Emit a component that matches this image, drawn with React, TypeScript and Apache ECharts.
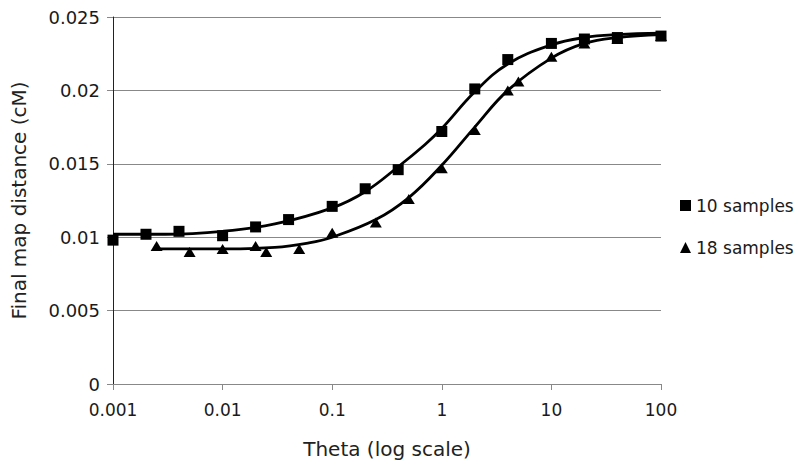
import React, { useEffect, useRef } from "react";
import * as echarts from "echarts";

const xTicks = [0.001, 0.01, 0.1, 1, 10, 100];
const yTicks = [0, 0.005, 0.01, 0.015, 0.02, 0.025];

const sqX = [0.001, 0.002, 0.004, 0.01, 0.02, 0.04, 0.1, 0.2, 0.4, 1, 2, 4, 10, 20, 40, 100];
const sqY = [0.0098, 0.0102, 0.0104, 0.0101, 0.0107, 0.0112, 0.0121, 0.0133, 0.0146, 0.0172, 0.0201, 0.0221, 0.0232, 0.0235, 0.0236, 0.0237];

const triX = [0.0025, 0.005, 0.01, 0.02, 0.025, 0.05, 0.1, 0.25, 0.5, 1, 2, 4, 5, 10, 20, 40, 100];
const triY = [0.0094, 0.009, 0.0092, 0.0094, 0.009, 0.0092, 0.0103, 0.011, 0.0126, 0.0147, 0.0173, 0.02, 0.0206, 0.0223, 0.0232, 0.0235, 0.0237];

const sqCurveX = [0.001, 0.003, 0.01, 0.03, 0.1, 0.2, 0.4, 0.7, 1, 2, 4, 10, 20, 40, 100];
const sqCurveY = [0.0102, 0.0102, 0.0104, 0.0109, 0.012, 0.0131, 0.0148, 0.0163, 0.0174, 0.0199, 0.0218, 0.0231, 0.0236, 0.0238, 0.0239];

const triCurveX = [0.0025, 0.01, 0.03, 0.06, 0.1, 0.25, 0.5, 1, 2, 4, 10, 20, 40, 100];
const triCurveY = [0.0092, 0.0092, 0.0093, 0.0096, 0.01, 0.0112, 0.0127, 0.0149, 0.0175, 0.02, 0.0222, 0.0232, 0.0236, 0.0238];

const seriesNames = ["10 samples", "18 samples"];

const FONT = "DejaVu Sans";

const zip = (xs: number[], ys: number[]) => xs.map((x, i) => [x, ys[i]]);

export default function App() {
  const ref = useRef<HTMLDivElement>(null);
  useEffect(() => {
    if (!ref.current) return;
    const chart = echarts.init(ref.current, null, { renderer: "svg" });
    chart.setOption({
      animation: false,
      backgroundColor: "#fff",
      grid: { left: 113, right: 139, top: 17, bottom: 81, containLabel: false, outerBoundsMode: "none" },
      xAxis: {
        type: "log",
        logBase: 10,
        min: xTicks[0],
        max: xTicks[xTicks.length - 1],
        name: "Theta (log scale)",
        nameLocation: "middle",
        nameGap: 55,
        nameTextStyle: { fontSize: 20, color: "#222", fontFamily: FONT },
        axisLine: { show: true, lineStyle: { color: "#888", width: 1 } },
        axisTick: { show: true, inside: false, length: 6, lineStyle: { color: "#888" } },
        minorTick: { show: false },
        splitLine: { show: false },
        axisLabel: {
          fontSize: 17,
          color: "#1a1a1a",
          fontFamily: FONT,
          margin: 17,
          formatter: (v: number) => {
            const t = xTicks.find((k) => Math.abs(Math.log10(k) - Math.log10(v)) < 1e-6);
            return t !== undefined ? String(t) : "";
          },
        },
      },
      yAxis: {
        type: "value",
        min: yTicks[0],
        max: yTicks[yTicks.length - 1],
        interval: 0.005,
        name: "Final map distance (cM)",
        nameLocation: "middle",
        nameGap: 84,
        nameRotate: 90,
        nameTextStyle: { fontSize: 20, color: "#222", fontFamily: FONT },
        axisLine: { show: true, lineStyle: { color: "#222", width: 1 } },
        axisTick: { show: true, inside: false, length: 6, lineStyle: { color: "#888" } },
        splitLine: { show: true, lineStyle: { color: "#888", width: 1 } },
        axisLabel: {
          fontSize: 18,
          color: "#1a1a1a",
          fontFamily: FONT,
          margin: 13,
          formatter: (v: number) => String(+v.toFixed(3)),
        },
      },
      legend: {
        orient: "vertical",
        left: 675,
        top: 192,
        itemWidth: 11,
        itemHeight: 11,
        itemGap: 25,
        textStyle: { fontSize: 17, color: "#1a1a1a", fontFamily: FONT },
        data: [
          { name: seriesNames[0], icon: "rect" },
          { name: seriesNames[1], icon: "triangle" },
        ],
      },
      series: [
        {
          type: "line",
          name: "fit10",
          data: zip(sqCurveX, sqCurveY),
          smooth: 0.4,
          showSymbol: false,
          symbol: "none",
          lineStyle: { color: "#000", width: 2.8 },
          z: 2,
        },
        {
          type: "line",
          name: "fit18",
          data: zip(triCurveX, triCurveY),
          smooth: 0.4,
          showSymbol: false,
          symbol: "none",
          lineStyle: { color: "#000", width: 2.8 },
          z: 2,
        },
        {
          type: "scatter",
          name: seriesNames[0],
          data: zip(sqX, sqY),
          symbol: "rect",
          symbolSize: 11,
          itemStyle: { color: "#000", opacity: 1 },
          z: 3,
        },
        {
          type: "scatter",
          name: seriesNames[1],
          data: zip(triX, triY),
          symbol: "triangle",
          symbolSize: [12, 10],
          itemStyle: { color: "#000", opacity: 1 },
          z: 3,
        },
      ],
    });
    return () => chart.dispose();
  }, []);
  return <div ref={ref} style={{ width: 800, height: 465, position: "absolute", left: 0, top: 0 }} />;
}
